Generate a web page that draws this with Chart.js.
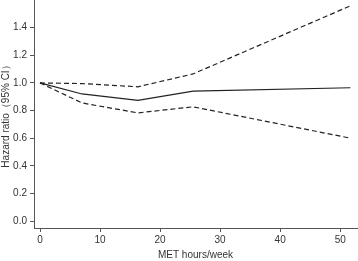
<!DOCTYPE html>
<html lang="en">

<head>
    <meta charset="UTF-8">
    <title>Hazard ratio by MET hours/week</title>
    <script src="https://cdn.jsdelivr.net/npm/chart.js"></script>
    <style>
        html, body { margin: 0; padding: 0; background: #fff; }
        #wrap { width: 358px; height: 261px; }
    </style>
</head>

<body>
    <div id="wrap"><canvas id="hrChart" width="358" height="261"></canvas></div>

    <script>
        // values
        const metHours = [0, 7, 16.3, 25.5, 51.7];
        const hazardRatio = [1.0, 0.92, 0.873, 0.94, 0.965];
        const upperCI = [1.0, 0.995, 0.972, 1.065, 1.558];
        const lowerCI = [1.0, 0.855, 0.783, 0.827, 0.60];
        const xTicks = [0, 10, 20, 30, 40, 50];
        const yTicks = [0, 0.2, 0.4, 0.6, 0.8, 1.0, 1.2, 1.4];

        const ink = '#222';
        const axisInk = '#555';
        const textInk = '#333';

        function toPoints(ys) {
            return metHours.map((x, i) => ({ x: x, y: ys[i] }));
        }

        function lineSet(label, ys, dash) {
            return {
                label: label,
                data: toPoints(ys),
                borderColor: ink,
                borderWidth: 1.2,
                borderDash: dash,
                pointRadius: 0,
                tension: 0,
                fill: false
            };
        }

        Chart.defaults.font.family = '"Liberation Sans", Arial, sans-serif';
        Chart.defaults.font.size = 10;
        Chart.defaults.color = textInk;

        new Chart(document.getElementById('hrChart'), {
            type: 'line',
            data: {
                datasets: [
                    lineSet('Upper 95% CI', upperCI, [5, 3]),
                    lineSet('Hazard ratio', hazardRatio, []),
                    lineSet('Lower 95% CI', lowerCI, [5, 3])
                ]
            },
            options: {
                responsive: false,
                animation: false,
                layout: { padding: { top: 0, right: 1, bottom: 0, left: 0 } },
                plugins: {
                    legend: { display: false },
                    tooltip: { enabled: false }
                },
                scales: {
                    x: {
                        type: 'linear',
                        min: -1,
                        max: 52.8,
                        afterBuildTicks: s => { s.ticks = xTicks.map(v => ({ value: v })); },
                        afterFit: s => { s.height = 33; s.paddingLeft = 0; s.paddingRight = 0; },
                        ticks: { padding: 2, maxRotation: 0, callback: v => String(v) },
                        grid: { drawOnChartArea: false, drawTicks: true, tickLength: 4, color: axisInk },
                        border: { display: true, color: axisInk, width: 1 },
                        title: { display: true, text: 'MET hours/week', padding: { top: 2, bottom: 0 } }
                    },
                    y: {
                        min: -0.05,
                        max: 1.6,
                        afterBuildTicks: s => { s.ticks = yTicks.map(v => ({ value: v })); },
                        afterFit: s => { s.width = 34; s.paddingTop = 0; s.paddingBottom = 0; },
                        ticks: { padding: 3, callback: v => Number(v).toFixed(1) },
                        grid: { drawOnChartArea: false, drawTicks: true, tickLength: 4, color: axisInk },
                        border: { display: true, color: axisInk, width: 1 },
                        title: { display: true, text: 'Hazard ratio（95% CI）', padding: { top: 0, bottom: 0 } }
                    }
                }
            }
        });
    </script>

</body>

</html>
